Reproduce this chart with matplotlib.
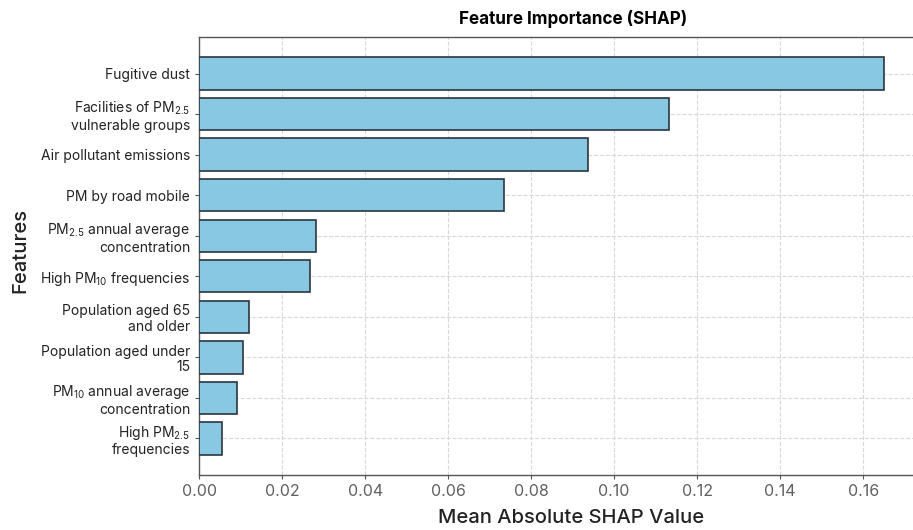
import numpy as np
import matplotlib
matplotlib.use("Agg")
import matplotlib.pyplot as plt

plt.rcParams['font.family'] = ['Inter', 'DejaVu Sans']
plt.rcParams['mathtext.fontset'] = 'custom'
plt.rcParams['mathtext.rm'] = 'Inter'
plt.rcParams['mathtext.it'] = 'Inter'

features = [
    "Fugitive dust",
    "Facilities of PM$_{2.5}$\nvulnerable groups",
    "Air pollutant emissions",
    "PM by road mobile",
    "PM$_{2.5}$ annual average\nconcentration",
    "High PM$_{10}$ frequencies",
    "Population aged 65\nand older",
    "Population aged under\n15",
    "PM$_{10}$ annual average\nconcentration",
    "High PM$_{2.5}$\nfrequencies",
]
importance = [0.1650, 0.1131, 0.0938, 0.0734, 0.0282, 0.0267, 0.0120, 0.0107, 0.0091, 0.0055]
xticks = [0.00, 0.02, 0.04, 0.06, 0.08, 0.10, 0.12, 0.14, 0.16]

fig = plt.figure(figsize=(9.13, 5.30), dpi=100)
ax = fig.add_axes([0.218, 0.104, 0.792, 0.826])

y = np.arange(len(features))
ax.barh(y, importance, height=0.8, color="#89c8e3", edgecolor="#2b3540", linewidth=1.2, zorder=3)
ax.set_yticks(y)
ax.set_yticklabels(features, fontsize=10, color="#222222", linespacing=1.12)
ax.invert_yaxis()
ax.set_ylim(9.9, -0.9)
ax.set_xlim(0, 0.1742)
ax.set_xticks(xticks)
ax.set_xticklabels([f"{v:.2f}" for v in xticks], fontsize=11.5, color="#606060")

ax.grid(True, linestyle="--", color="#d8d8d8", linewidth=0.8, zorder=0)
ax.set_axisbelow(True)
for s in ["left", "bottom", "top"]:
    ax.spines[s].set_color("#555555")
    ax.spines[s].set_linewidth(1.0)
ax.spines["right"].set_visible(False)
ax.tick_params(axis="both", length=3, color="#555555")

fig.text(0.628, 0.965, "Feature Importance (SHAP)", ha="center", va="center",
         fontsize=12.3, fontweight="bold")
fig.text(0.625, 0.022, "Mean Absolute SHAP Value", ha="center", va="center",
         fontsize=14.5, fontweight="medium", color="#222222")
fig.text(0.022, 0.528, "Features", ha="center", va="center", rotation=90,
         fontsize=14.5, fontweight="medium", color="#222222")

fig.savefig("out.png", dpi=100)
